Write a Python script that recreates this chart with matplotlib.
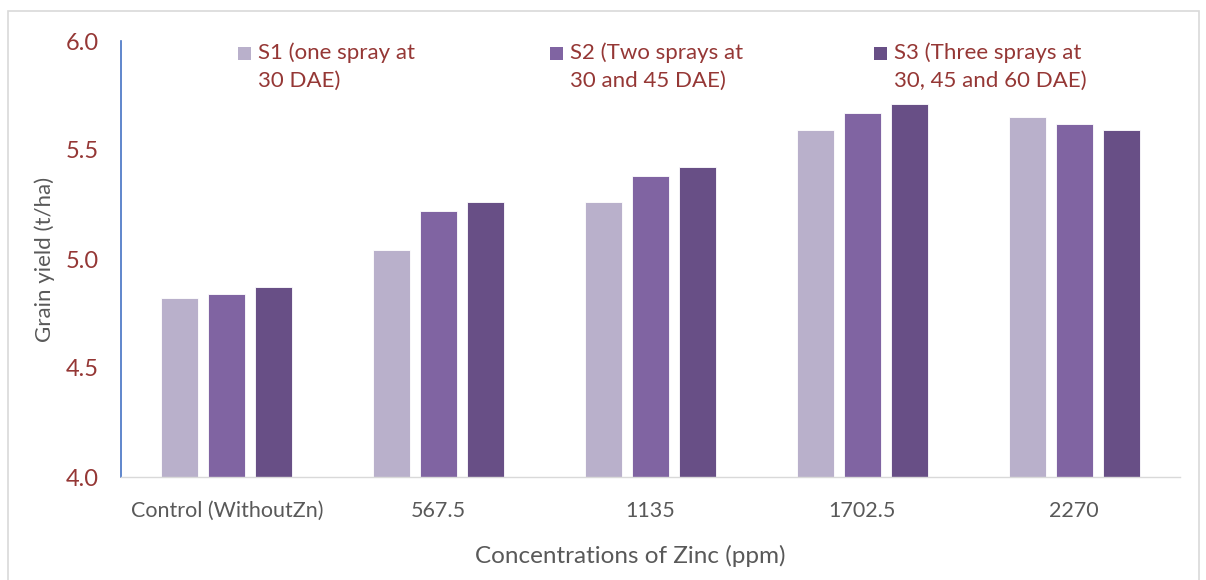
import matplotlib
matplotlib.use("Agg")
import matplotlib.pyplot as plt
from matplotlib.patches import Rectangle
import numpy as np

categories = ["Control (WithoutZn)", "567.5", "1135", "1702.5", "2270"]
s1 = [4.82, 5.04, 5.26, 5.59, 5.65]
s2 = [4.84, 5.22, 5.38, 5.67, 5.62]
s3 = [4.87, 5.26, 5.42, 5.71, 5.59]
series_labels = ["S1 (one spray at\n30 DAE)", "S2 (Two sprays at\n30 and 45 DAE)", "S3 (Three sprays at\n30, 45 and 60 DAE)"]
colors = ["#B9B0CB", "#8064A2", "#684F86"]
yticks = [4.0, 4.5, 5.0, 5.5, 6.0]

plt.rcParams['font.family'] = ['Lato', 'DejaVu Sans']
W, H = 1206, 580
AX_L, AX_R, AX_T, AX_B = 121, 1180, 41, 477
fig = plt.figure(figsize=(W/100, H/100), dpi=100)
ax = fig.add_axes([AX_L/W, 1-AX_B/H, (AX_R-AX_L)/W, (AX_B-AX_T)/H])
aw, ah = AX_R-AX_L, AX_B-AX_T

x = np.arange(len(categories))
bw = 0.175
pitch = 0.222
for i, (vals, c) in enumerate(zip([s1, s2, s3], colors)):
    ax.bar(x + (i-1)*pitch, np.array(vals)-4.0, bottom=4.0, width=bw, color=c,
           edgecolor='white', linewidth=0.6, zorder=2)

ax.set_xlim(-0.5, len(categories)-0.5)
ax.set_ylim(4.0, 6.0)
ax.set_yticks(yticks)
ax.set_yticklabels([f"{v:.1f}" for v in yticks], color="#953735", fontsize=17)
ax.set_xticks(x)
ax.set_xticklabels(categories, color="#595959", fontsize=15.5)
ax.tick_params(axis='both', length=0)
ax.tick_params(axis='y', pad=16)
ax.tick_params(axis='x', pad=17.5)
for s in ['top', 'right']:
    ax.spines[s].set_visible(False)
ax.spines['left'].set_color("#4472C4")
ax.spines['left'].set_linewidth(1.2)
ax.spines['bottom'].set_color("#D9D9D9")
ax.spines['bottom'].set_linewidth(1.0)

ax.set_ylabel("Grain yield (t/ha)", color="#595959", fontsize=16)
ax.yaxis.set_label_coords(-(AX_L-55)/aw, 0.5)
ax.set_xlabel("Concentrations of Zinc (ppm)", color="#595959", fontsize=17.5)
ax.xaxis.set_label_coords((630-AX_L)/aw, -(545-AX_B)/ah)

# legend (manual, square aligned with first line)
leg_x = [238, 550, 874]
for lx, lab, c in zip(leg_x, series_labels, colors):
    fig.patches.append(Rectangle((lx/W, 1-60/H), 13/W, 13/H, transform=fig.transFigure,
                                 facecolor=c, edgecolor='none'))
    fig.text((lx+20)/W, 1-42/H, lab, color="#953735", fontsize=16, va='top', ha='left',
             linespacing=1.5)

# outer border
fig.patches.append(Rectangle((8/W, -0.05), (1199-8)/W, 1-11/H+0.05, transform=fig.transFigure,
                             facecolor='none', edgecolor='#D9D9D9', linewidth=1.2))

fig.savefig("out.png", dpi=100)
